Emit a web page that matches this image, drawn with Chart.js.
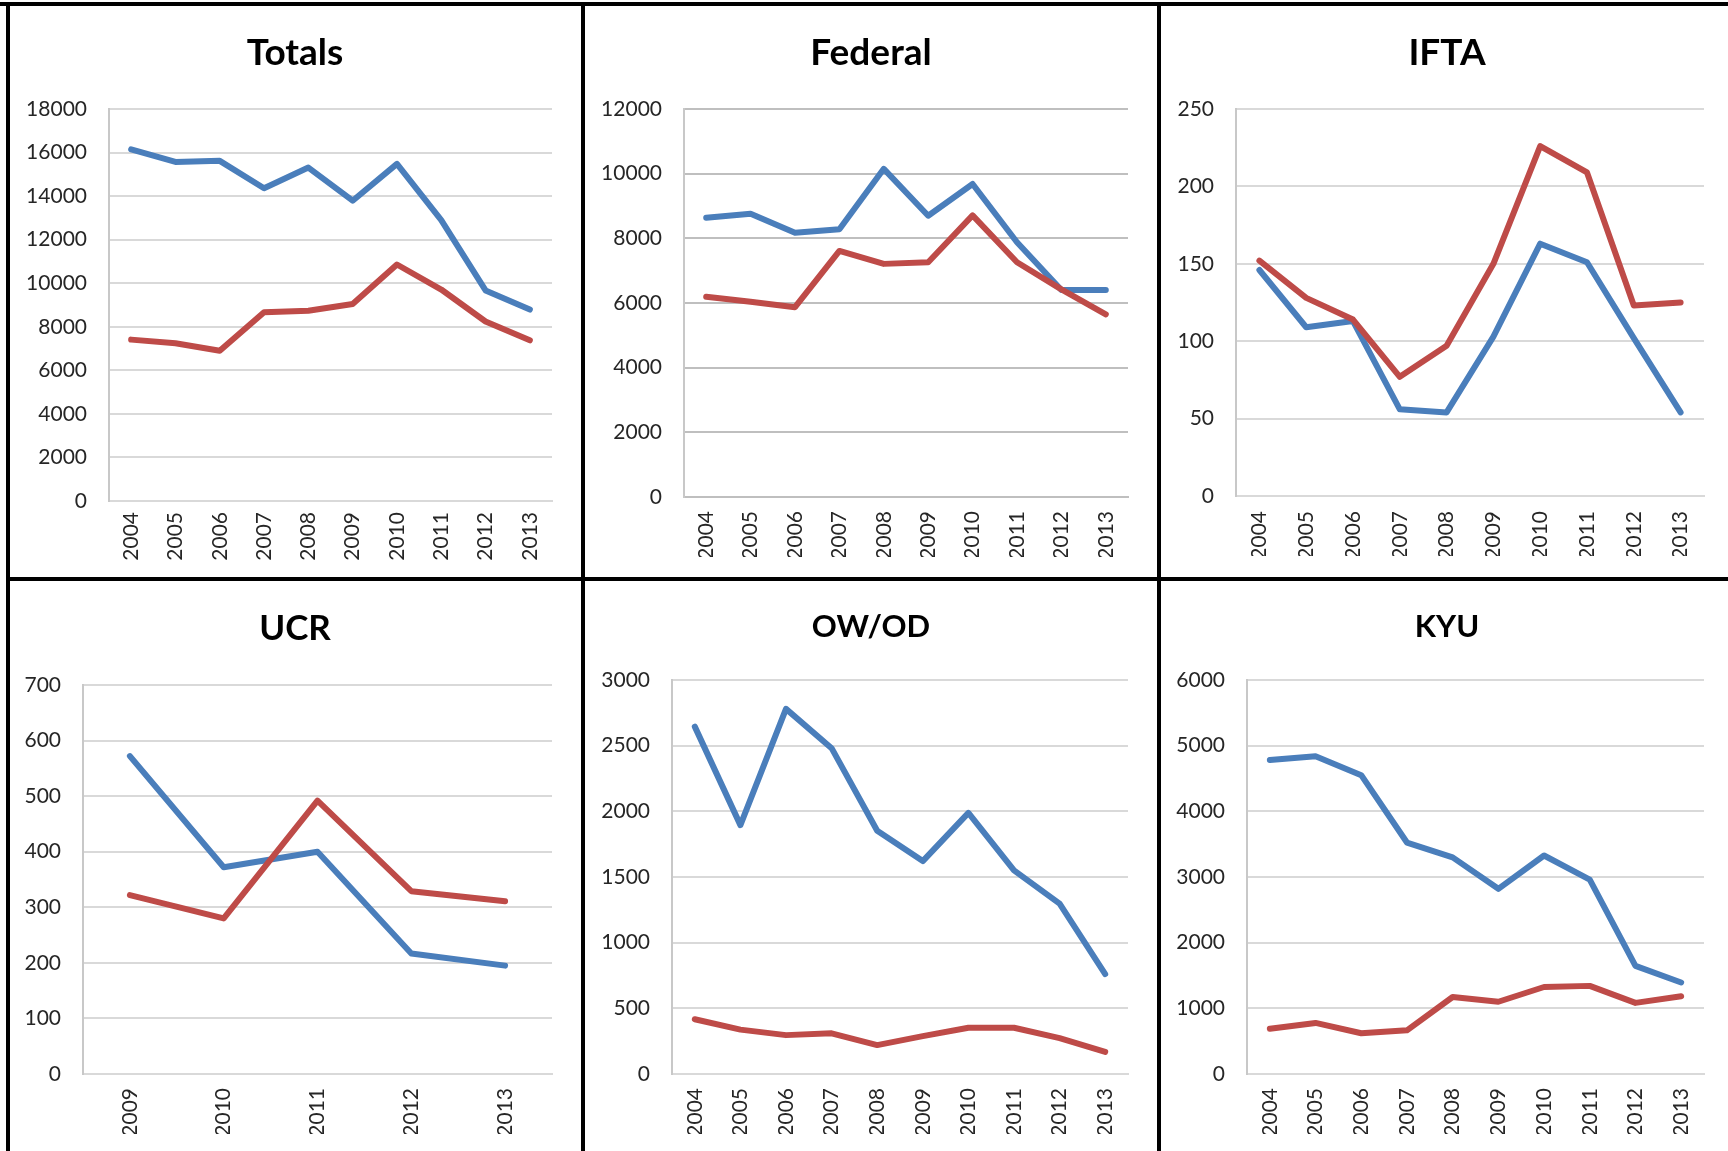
<!DOCTYPE html>
<html>
<head>
<meta charset="utf-8">
<script src="https://cdn.jsdelivr.net/npm/chart.js@4.4.1/dist/chart.umd.min.js"></script>
<style>
  body { margin: 0; background: #fff; width: 1728px; height: 1151px; overflow: hidden; position: relative; }
  .rule { position: absolute; background: #000; }
  canvas { position: absolute; }
</style>
</head>
<body>
<div class="rule" style="left:0;top:2px;width:1728px;height:4px"></div>
<div class="rule" style="left:6px;top:2px;width:4px;height:1149px"></div>
<div class="rule" style="left:581px;top:2px;width:4px;height:1149px"></div>
<div class="rule" style="left:1157px;top:2px;width:4px;height:1149px"></div>
<div class="rule" style="left:6px;top:577px;width:1722px;height:4px"></div>

<canvas id="totals"></canvas>
<canvas id="federal"></canvas>
<canvas id="ifta"></canvas>
<canvas id="ucr"></canvas>
<canvas id="owod"></canvas>
<canvas id="kyu"></canvas>

<script>
// categories
const years = ["2004", "2005", "2006", "2007", "2008", "2009", "2010", "2011", "2012", "2013"];
const ucrYears = ["2009", "2010", "2011", "2012", "2013"];

// series (blue = first series, red = second series)
const totalsBlue = [16150, 15570, 15620, 14360, 15310, 13790, 15480, 12900, 9670, 8790];
const totalsRed = [7410, 7240, 6900, 8670, 8740, 9050, 10860, 9710, 8240, 7380];
const federalBlue = [8640, 8760, 8170, 8280, 10150, 8700, 9680, 7880, 6400, 6400];
const federalRed = [6190, 6040, 5870, 7610, 7210, 7260, 8710, 7260, 6420, 5650];
const iftaBlue = [146, 109, 113, 56, 54, 103, 163, 151, 102, 54];
const iftaRed = [152, 128, 114, 77, 97, 150, 226, 209, 123, 125];
const ucrBlue = [572, 372, 400, 217, 195];
const ucrRed = [322, 280, 492, 329, 311];
const owodBlue = [2645, 1895, 2780, 2481, 1852, 1621, 1988, 1551, 1297, 761];
const owodRed = [417, 338, 296, 310, 220, 288, 352, 352, 273, 169];
const kyuBlue = [4782, 4838, 4551, 3525, 3299, 2820, 3327, 2960, 1647, 1393];
const kyuRed = [688, 778, 620, 665, 1173, 1100, 1325, 1342, 1083, 1184];

// y-axis ranges: [max, step]
const totalsAxis = [18000, 2000];
const federalAxis = [12000, 2000];
const iftaAxis = [250, 50];
const ucrAxis = [700, 100];
const owodAxis = [3000, 500];
const kyuAxis = [6000, 1000];

// layout of each panel: cell box, plot box, title placement
const panels = [
  { id: 'totals', title: 'Totals', labels: years, blue: totalsBlue, red: totalsRed, axis: totalsAxis,
    cell: [10, 6, 581, 577], plot: [109, 109, 552, 501], tx: 295, ty: 65, ts: 37, grid: '#d9d9d9', xpad: 11 },
  { id: 'federal', title: 'Federal', labels: years, blue: federalBlue, red: federalRed, axis: federalAxis,
    cell: [585, 6, 1157, 577], plot: [684, 109, 1128, 497], tx: 871, ty: 65, ts: 37, grid: '#bfbfbf', xpad: 14 },
  { id: 'ifta', title: 'IFTA', labels: years, blue: iftaBlue, red: iftaRed, axis: iftaAxis,
    cell: [1161, 6, 1728, 577], plot: [1236, 109, 1704, 496], tx: 1447, ty: 65, ts: 37, grid: '#d9d9d9', xpad: 15 },
  { id: 'ucr', title: 'UCR', labels: ucrYears, blue: ucrBlue, red: ucrRed, axis: ucrAxis,
    cell: [10, 581, 581, 1151], plot: [83, 685, 552, 1074], tx: 295, ty: 640, ts: 35, grid: '#d9d9d9', xpad: 14 },
  { id: 'owod', title: 'OW/OD', labels: years, blue: owodBlue, red: owodRed, axis: owodAxis,
    cell: [585, 581, 1157, 1151], plot: [672, 680, 1128, 1074], tx: 871, ty: 637, ts: 31, grid: '#d9d9d9', xpad: 14 },
  { id: 'kyu', title: 'KYU', labels: years, blue: kyuBlue, red: kyuRed, axis: kyuAxis,
    cell: [1161, 581, 1728, 1151], plot: [1247, 680, 1704, 1074], tx: 1447, ty: 637, ts: 31, grid: '#d9d9d9', xpad: 14 }
];

const X_H = 60;   // height reserved for x tick labels

const panelTitle = {
  id: 'panelTitle',
  afterDraw(chart, args, opts) {
    const ctx = chart.ctx;
    ctx.save();
    ctx.font = 'bold ' + opts.size + 'px Lato';
    ctx.fillStyle = '#000';
    ctx.textAlign = 'center';
    ctx.textBaseline = 'alphabetic';
    ctx.fillText(opts.text, opts.x, opts.y);
    ctx.restore();
  }
};

Chart.defaults.font.family = 'Lato';
Chart.defaults.font.size = 21;
Chart.defaults.color = '#262626';

function drawPanel(p) {
  const [cx0, cy0, cx1, cy1] = p.cell;
  const [l, t, r, b] = p.plot;
  const yW = l - cx0 - 4;   // room for y tick labels
  const cv = document.getElementById(p.id);
  cv.style.left = cx0 + 'px';
  cv.style.top = cy0 + 'px';
  cv.width = cx1 - cx0;
  cv.height = cy1 - cy0;

  new Chart(cv.getContext('2d'), {
    type: 'line',
    data: {
      labels: p.labels,
      datasets: [
        { data: p.blue, borderColor: '#4a7ebb', order: 1 },
        { data: p.red, borderColor: '#be4b48', order: 0 }
      ]
    },
    options: {
      responsive: false,
      animation: false,
      devicePixelRatio: 1,
      layout: {
        padding: { left: 4, top: t - cy0, right: cx1 - r, bottom: cy1 - b - X_H }
      },
      elements: {
        line: { borderWidth: 6, tension: 0, fill: false, borderJoinStyle: 'round', borderCapStyle: 'round' },
        point: { radius: 0, hoverRadius: 0 }
      },
      plugins: {
        legend: { display: false },
        tooltip: { enabled: false },
        panelTitle: { text: p.title, x: p.tx - cx0, y: p.ty - cy0, size: p.ts }
      },
      scales: {
        x: {
          offset: true,
          grid: { display: false, drawTicks: false },
          border: { display: true, color: p.grid, width: 2 },
          ticks: { minRotation: 90, maxRotation: 90, padding: p.xpad, autoSkip: false },
          afterFit: s => { s.height = X_H; }
        },
        y: {
          min: 0,
          max: p.axis[0],
          grid: { color: p.grid, lineWidth: 2, drawTicks: false },
          border: { display: true, color: '#c8c8c8', width: 2 },
          ticks: { stepSize: p.axis[1], padding: 22, callback: v => String(v) },
          afterFit: s => { s.width = yW; }
        }
      }
    },
    plugins: [panelTitle]
  });
}

const ready = document.fonts && document.fonts.load
  ? Promise.all([document.fonts.load('21px Lato'), document.fonts.load('bold 37px Lato')]).catch(() => {})
  : Promise.resolve();
ready.then(() => panels.forEach(drawPanel));
</script>
</body>
</html>
